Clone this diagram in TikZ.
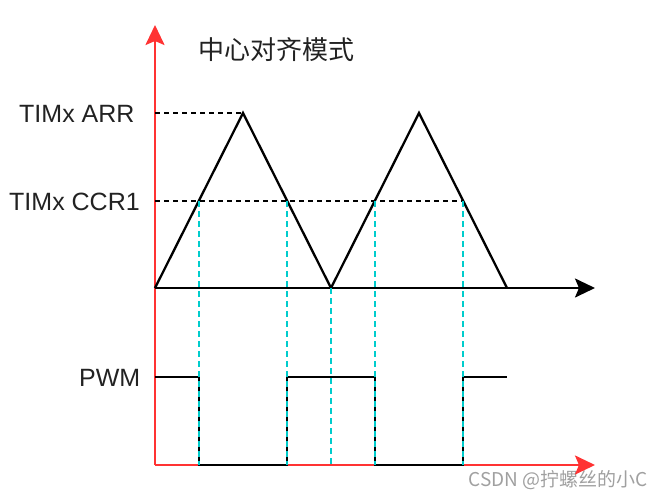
\documentclass[tikz,border=0pt]{standalone}
\usepackage{fontspec}
\setmainfont{Liberation Sans}
\newfontfamily\cjk{Noto Sans CJK SC}
\usetikzlibrary{arrows.meta}
\definecolor{axisred}{HTML}{FF3333}
\definecolor{guidecyan}{HTML}{00CCCC}
\definecolor{markgray}{HTML}{A0A0A0}
\definecolor{labelgray}{HTML}{222222}

\begin{document}
\begin{tikzpicture}
[x=1pt,y=-1pt,
  redaxis/.style={-{Stealth[length=20pt,width=19pt,inset=4pt]},line width=2.3pt,color=axisred},%
  blackaxis/.style={-{Stealth[length=20pt,width=19pt,inset=4pt]},line width=2.3pt,color=black},
  wave/.style={-,line width=2.3pt,line join=miter},
  levelline/.style={-,line width=1.8pt,dash pattern=on 5pt off 4pt},
  guideline/.style={-,line width=2.3pt,color=guidecyan,dash pattern=on 6pt off 4pt},
  ylabel/.style={inner sep=0pt,text=labelgray,font=\fontsize{25}{30}\selectfont}]
\useasboundingbox (0,0) rectangle (662,499);
% points of the axes
\coordinate (o) at (155,288);
\coordinate (yend) at (155,25);
\coordinate (xend) at (595,288);
\coordinate (b) at (155,465);
\coordinate (bend) at (595,465);
% points of the counter
\coordinate (t0) at (155,288);
\coordinate (t1) at (243,113);
\coordinate (t2) at (331,288);
\coordinate (t3) at (419,113);
\coordinate (t4) at (507,288);
% levels
\coordinate (arr) at (155,113);
\coordinate (ccr) at (155,201);
\coordinate (ccrend) at (463,201);
% points of the PWM output
\coordinate (p0) at (155,377);
\coordinate (p1) at (199,377);
\coordinate (p2) at (199,465);
\coordinate (p3) at (287,465);
\coordinate (p4) at (287,377);
\coordinate (p5) at (375,377);
\coordinate (p6) at (375,465);
\coordinate (p7) at (463,465);
\coordinate (p8) at (463,377);
\coordinate (p9) at (507,377);
% tops of the guides
\coordinate (g1) at (199,201);
\coordinate (g2) at (287,201);
\coordinate (g3) at (375,201);
\coordinate (g4) at (463,201);
\coordinate (h1) at (199,465);
\coordinate (h2) at (287,465);
\coordinate (h3) at (331,465);
\coordinate (h4) at (375,465);
\coordinate (h5) at (463,465);
% labels
\node (title) at (276,50) [ylabel,font=\cjk\fontsize{26}{30}\selectfont] {中心对齐模式};
\node (arrlabel) at (19,114) [ylabel,anchor=west] {TIMx ARR};
\node (ccrlabel) at (9,202) [ylabel,anchor=west] {TIMx CCR1};
\node (pwmlabel) at (79,378) [ylabel,anchor=west] {PWM};
\node (mark) at (648,480) [inner sep=0pt,anchor=east,text=markgray,font=\cjk\fontsize{19}{22}\selectfont] {CSDN @拧螺丝的小C};
% axes
\draw[redaxis] (b) -- (yend);
\draw[redaxis] (b) -- (bend);
\draw[blackaxis] (o) -- (xend);
% counter and levels
\draw[wave] (t0) -- (t1) -- (t2) -- (t3) -- (t4);
\draw[levelline] (arr) -- (t1);
\draw[levelline] (ccr) -- (ccrend);
% PWM output
\draw[wave] (p0) -- (p1) -- (p2) -- (p3) -- (p4) -- (p5) -- (p6) -- (p7) -- (p8) -- (p9);
% guides
\draw[guideline] (g1) -- (h1);
\draw[guideline] (g2) -- (h2);
\draw[guideline] (t2) -- (h3);
\draw[guideline] (g3) -- (h4);
\draw[guideline] (g4) -- (h5);
\end{tikzpicture}
\end{document}
